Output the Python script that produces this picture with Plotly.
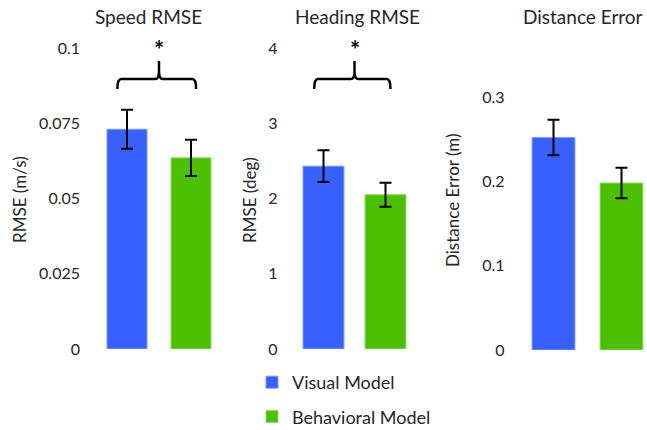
import plotly.graph_objects as go

W, H = 647, 430

models = ["Visual Model", "Behavioral Model"]
colors = ["#3860FF", "#4CBF00"]
line_colors = ["#7F9BFF", "#8FDB6A"]

panel_titles = ["Speed RMSE", "Heading RMSE", "Distance Error"]
axis_titles = ["RMSE (m/s)", "RMSE (deg)", "Distance Error (m)"]

speed_mean = [0.073, 0.0635]
speed_err = [0.0065, 0.006]
heading_mean = [2.43, 2.05]
heading_err = [0.21, 0.16]
dist_mean = [0.252, 0.198]
dist_err = [0.021, 0.018]

speed_ticks = [0, 0.025, 0.05, 0.075, 0.1]
speed_ticktext = ["0", "0.025", "0.05", "0.075", "0.1"]
heading_ticks = [0, 1, 2, 3, 4]
heading_ticktext = ["0", "1", "2", "3", "4"]
dist_ticks = [0, 0.1, 0.2, 0.3]
dist_ticktext = ["0", "0.1", "0.2", "0.3"]

significant = [True, True, False]

means = [speed_mean, heading_mean, dist_mean]
errs = [speed_err, heading_err, dist_err]
ticks = [speed_ticks, heading_ticks, dist_ticks]
ticktexts = [speed_ticktext, heading_ticktext, dist_ticktext]
yranges = [[0, 0.1], [0, 4], [0, 0.3]]

# layout geometry (pixels)
x_domains_px = [(95, 223), (292.5, 416.5), (519.5, 647)]
x_ranges = [[-0.5, 1.5], [-0.5, 1.5], [-0.5, 1.375]]
y_domains_px = [(349, 48), (349, 48), (350, 97)]
bar_widths = [0.625, 0.66, 0.63]
axis_title_x_px = [20, 250, 453]
title_x_px = [148, 357, 583]

FONT = "Lato, 'Open Sans', sans-serif"
TXT = "#262626"

fig = go.Figure()
layout = dict(
    width=W, height=H,
    margin=dict(l=0, r=0, t=0, b=0, autoexpand=False),
    paper_bgcolor="white", plot_bgcolor="white",
    font=dict(family=FONT, size=16, color=TXT),
    barmode="overlay",
    showlegend=True,
    legend=dict(x=252 / W, y=1 - 364 / H, xanchor="left", yanchor="top",
                font=dict(size=18, color=TXT), tracegroupgap=8,
                bgcolor="rgba(0,0,0,0)"),
)
annotations = []
shapes = []

for i in range(3):
    sfx = "" if i == 0 else str(i + 1)
    xa = "x" + sfx
    ya = "y" + sfx
    for j, m in enumerate(models):
        fig.add_trace(go.Bar(
            x=[j], y=[means[i][j]], width=bar_widths[i],
            name=m, legendgroup=m, showlegend=(i == 0),
            marker=dict(color=colors[j], line=dict(color=line_colors[j], width=1)),
            error_y=dict(type="data", array=[errs[i][j]], color="black",
                         thickness=2, width=6),
            xaxis=xa, yaxis=ya,
        ))
    d0, d1 = x_domains_px[i]
    layout["xaxis" + sfx] = dict(domain=[d0 / W, d1 / W], range=x_ranges[i],
                                 showticklabels=False, showgrid=False,
                                 zeroline=False, showline=False, ticks="",
                                 anchor=ya, fixedrange=True)
    yb, yt = y_domains_px[i]
    layout["yaxis" + sfx] = dict(domain=[1 - yb / H, 1 - yt / H], range=yranges[i],
                                 tickvals=ticks[i], ticktext=ticktexts[i],
                                 showgrid=False, zeroline=False, showline=False,
                                 ticks="", ticklabelstandoff=14,
                                 tickfont=dict(size=16, color=TXT),
                                 anchor=xa, fixedrange=True)
    annotations.append(dict(text=panel_titles[i], x=title_x_px[i] / W, y=1 - 16 / H,
                            xref="paper", yref="paper", xanchor="center", yanchor="middle",
                            showarrow=False, font=dict(size=19, color=TXT)))
    annotations.append(dict(text=axis_titles[i], x=axis_title_x_px[i] / W, y=1 - 200 / H,
                            xref="paper", yref="paper", xanchor="center", yanchor="middle",
                            textangle=-90, showarrow=False, font=dict(size=17, color=TXT)))
    if significant[i]:
        x0, x1, xm = -0.15, 1.08, 0.5
        yh, ye, ys = 0.897, 0.864, 0.957
        r = 0.06
        path = (f"M {x0},{ye} Q {x0},{yh} {x0 + r},{yh} L {xm - r},{yh} "
                f"Q {xm},{yh} {xm},{yh + 0.025} L {xm},{ys} "
                f"M {xm},{yh + 0.025} Q {xm},{yh} {xm + r},{yh} L {x1 - r},{yh} "
                f"Q {x1},{yh} {x1},{ye}")
        shapes.append(dict(type="path", path=path, xref=xa, yref=ya + " domain",
                           line=dict(color="black", width=2.5)))
        annotations.append(dict(text="<b>*</b>", x=xm, y=0.995, xref=xa, yref=ya + " domain",
                                xanchor="center", yanchor="middle", showarrow=False,
                                font=dict(size=24, color="black")))

layout["annotations"] = annotations
layout["shapes"] = shapes
fig.update_layout(**layout)
fig.write_html("out.html")
